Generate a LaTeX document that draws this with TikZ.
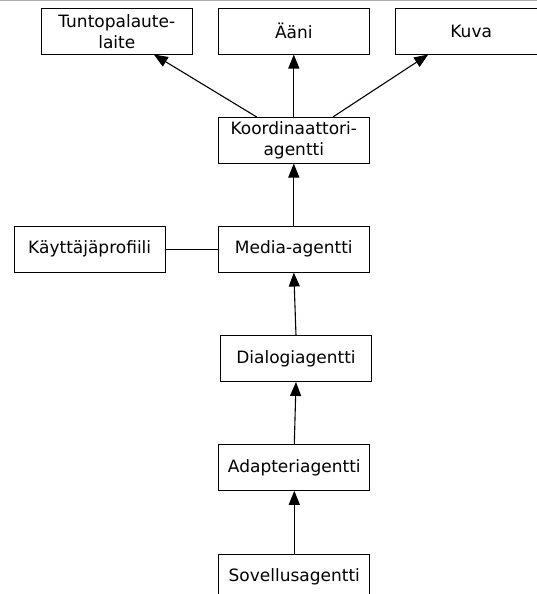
\documentclass[tikz,border=0pt]{standalone}
\usepackage{fontspec}
\setmainfont{DejaVu Sans}
\usetikzlibrary{arrows.meta}
\definecolor{rulegray}{RGB}{170,170,170}
\begin{document}
\begin{tikzpicture}[x=1pt,y=-1pt,
  agentbox/.style={draw=black, line width=1pt, fill=white, minimum width=151pt,
    minimum height=45.5pt, inner sep=0pt, align=center,
    font=\fontsize{17}{21}\selectfont},
  flow/.style={line width=1.1pt, -{Triangle[length=14pt,width=11pt]}},
  link/.style={line width=1.1pt}]
\useasboundingbox (0,0) rectangle (537,594);
\clip (0,0) rectangle (537,594);
\fill[white] (0,0) rectangle (537,594);
% thin rule along the top edge
\draw[rulegray, line width=1.2pt] (0,0.6) -- (537,0.6);

% output devices
\node[agentbox] (tunto) at (116.8,31.3) {Tuntopalaute-\\laite};
\node[agentbox] (aani)  at (293.8,31.3) {Ääni};
\node[agentbox] (kuva)  at (471.2,31.3) {Kuva};

% agents
\node[agentbox] (koord)    at (293.8,140.3) {Koordinaattori-\\agentti};
\node[agentbox, minimum width=150.7pt] (profiili) at (89.7,249.3) {Käyttäjäprofiili};
\node[agentbox] (media)    at (293.8,249.3) {Media-agentti};
\node[agentbox] (dialogi)  at (296,358.7) {Dialogiagentti};
\node[agentbox] (adapteri) at (294.3,467.5) {Adapteriagentti};
\node[agentbox] (sovellus) at (294.3,576.8) {Sovellusagentti};

% connectors
\draw[flow] ([xshift=-37pt]koord.north) -- ([xshift=37pt]tunto.south);
\draw[flow] (koord.north) -- (aani.south);
\draw[flow] ([xshift=39pt]koord.north) -- ([xshift=-43pt]kuva.south);
\draw[flow] (media.north) -- (koord.south);
\draw[link] (profiili.east) -- (media.west);
\draw[flow] (dialogi.north) -- (media.south);
\draw[flow] (adapteri.north) -- (dialogi.south);
\draw[flow] (sovellus.north) -- (adapteri.south);
\end{tikzpicture}
\end{document}
